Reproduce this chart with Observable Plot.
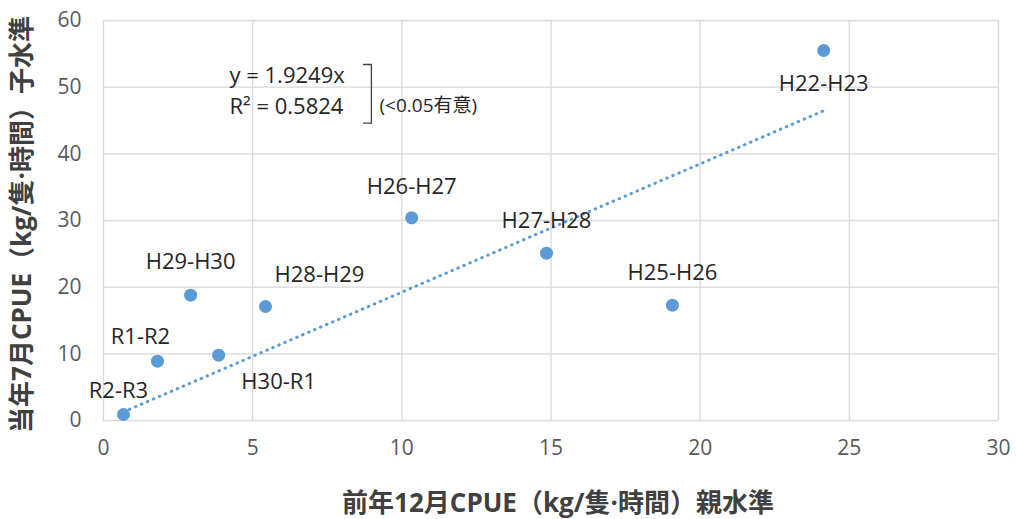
<!DOCTYPE html>
<html>
<head>
<meta charset="utf-8">
<script src="https://cdn.jsdelivr.net/npm/d3@7"></script>
<script src="https://cdn.jsdelivr.net/npm/@observablehq/plot@0.6"></script>
<style>
  html, body { margin: 0; padding: 0; background: #fff; }
</style>
</head>
<body>
<div id="chart"></div>
<script>
// ---- data ----
const periods = ["H22-H23", "H25-H26", "H26-H27", "H27-H28", "H28-H29", "H29-H30", "H30-R1", "R1-R2", "R2-R3"];
const parentCPUE = [24.14, 19.07, 10.33, 14.85, 5.43, 2.92, 3.86, 1.81, 0.67];   // 前年12月CPUE
const childCPUE  = [55.5, 17.3, 30.4, 25.1, 17.1, 18.8, 9.8, 8.9, 0.9];       // 当年7月CPUE
const xTicks = [0, 5, 10, 15, 20, 25, 30];
const yTicks = [0, 10, 20, 30, 40, 50, 60];
const slope = 1.9249;
const r2 = 0.5824;
const xTitle = "前年12月CPUE（kg/隻·時間）親水準";
const yTitle = "当年7月CPUE（kg/隻·時間）子水準";
const eqLine1 = `y = ${slope}x`;
const eqLine2 = `R² = ${r2}`;
const sigNote = "(<0.05有意)";

// label placement (pixel offsets from point)
const labelOffset = {
  "H22-H23": [0, 33], "H25-H26": [0, -32], "H26-H27": [0, -31], "H27-H28": [0, -32],
  "H28-H29": [54, -32], "H29-H30": [0, -33], "H30-R1": [60, 27], "R1-R2": [-17, -24], "R2-R3": [-5, -24]
};

const pts = periods.map((p, i) => ({ name: p, x: parentCPUE[i], y: childCPUE[i] }));
const xmin = d3.min(parentCPUE), xmax = d3.max(parentCPUE);
const trend = [{ x: xmin, y: slope * xmin }, { x: xmax, y: slope * xmax }];
// bracket annotation beside the equation
const bracket = [{ x: 8.72, y: 53.4 }, { x: 8.98, y: 53.4 }, { x: 8.98, y: 44.6 }, { x: 8.72, y: 44.6 }];

const blue = "#5b9bd5";
const font = "'Open Sans','Noto Sans CJK JP',sans-serif";

const labelMarks = pts.map(d => Plot.text([d], {
  x: "x", y: "y", text: "name",
  dx: labelOffset[d.name][0], dy: labelOffset[d.name][1],
  fontSize: 22, fill: "#262626"
}));

const chart = Plot.plot({
  width: 1016,
  height: 519,
  marginLeft: 103,
  marginRight: 18,
  marginTop: 20,
  marginBottom: 99,
  style: { fontFamily: font, fontSize: "21px", color: "#595959", background: "#fff" },
  x: { domain: [0, 30], ticks: xTicks, label: null, tickSize: 0, tickPadding: 20 },
  y: { domain: [0, 60], ticks: yTicks, label: null, tickSize: 0, tickPadding: 22 },
  marks: [
    Plot.gridX(xTicks, { stroke: "#d9d9d9", strokeOpacity: 1, strokeWidth: 1.3 }),
    Plot.gridY(yTicks, { stroke: "#d9d9d9", strokeOpacity: 1, strokeWidth: 1.3 }),
    Plot.axisX({ ticks: xTicks, tickSize: 0, tickPadding: 20, fill: "#595959", fontSize: 21 }),
    Plot.axisY({ ticks: yTicks, tickSize: 0, tickPadding: 22, fill: "#595959", fontSize: 21 }),
    Plot.line(trend, { x: "x", y: "y", stroke: blue, strokeWidth: 3, strokeDasharray: "0.5,6", strokeLinecap: "round" }),
    Plot.dot(pts, { x: "x", y: "y", r: 6.5, fill: blue, stroke: null }),
    ...labelMarks,
    Plot.text([eqLine1], {
      frameAnchor: "top-left", dx: 126, dy: 55,
      textAnchor: "start", lineAnchor: "middle", fontSize: 22, fill: "#262626"
    }),
    Plot.text([eqLine2], {
      frameAnchor: "top-left", dx: 126, dy: 86,
      textAnchor: "start", lineAnchor: "middle", fontSize: 22, fill: "#262626"
    }),
    Plot.line(bracket, { x: "x", y: "y", stroke: "#404040", strokeWidth: 1.3 }),
    Plot.text([sigNote], {
      frameAnchor: "top-left", dx: 276, dy: 85, textAnchor: "start", lineAnchor: "middle",
      fontSize: 19, fill: "#262626"
    }),
    Plot.text([xTitle], {
      frameAnchor: "bottom", dx: 7, dy: 83, fontSize: 26, fontWeight: "bold", fill: "#404040",
      textAnchor: "middle", lineAnchor: "middle"
    }),
    Plot.text([yTitle], {
      frameAnchor: "left", dx: -81, dy: 4, rotate: -90, fontSize: 26, fontWeight: "bold", fill: "#404040",
      textAnchor: "middle", lineAnchor: "middle"
    })
  ]
});
document.getElementById("chart").appendChild(chart);
</script>
</body>
</html>
